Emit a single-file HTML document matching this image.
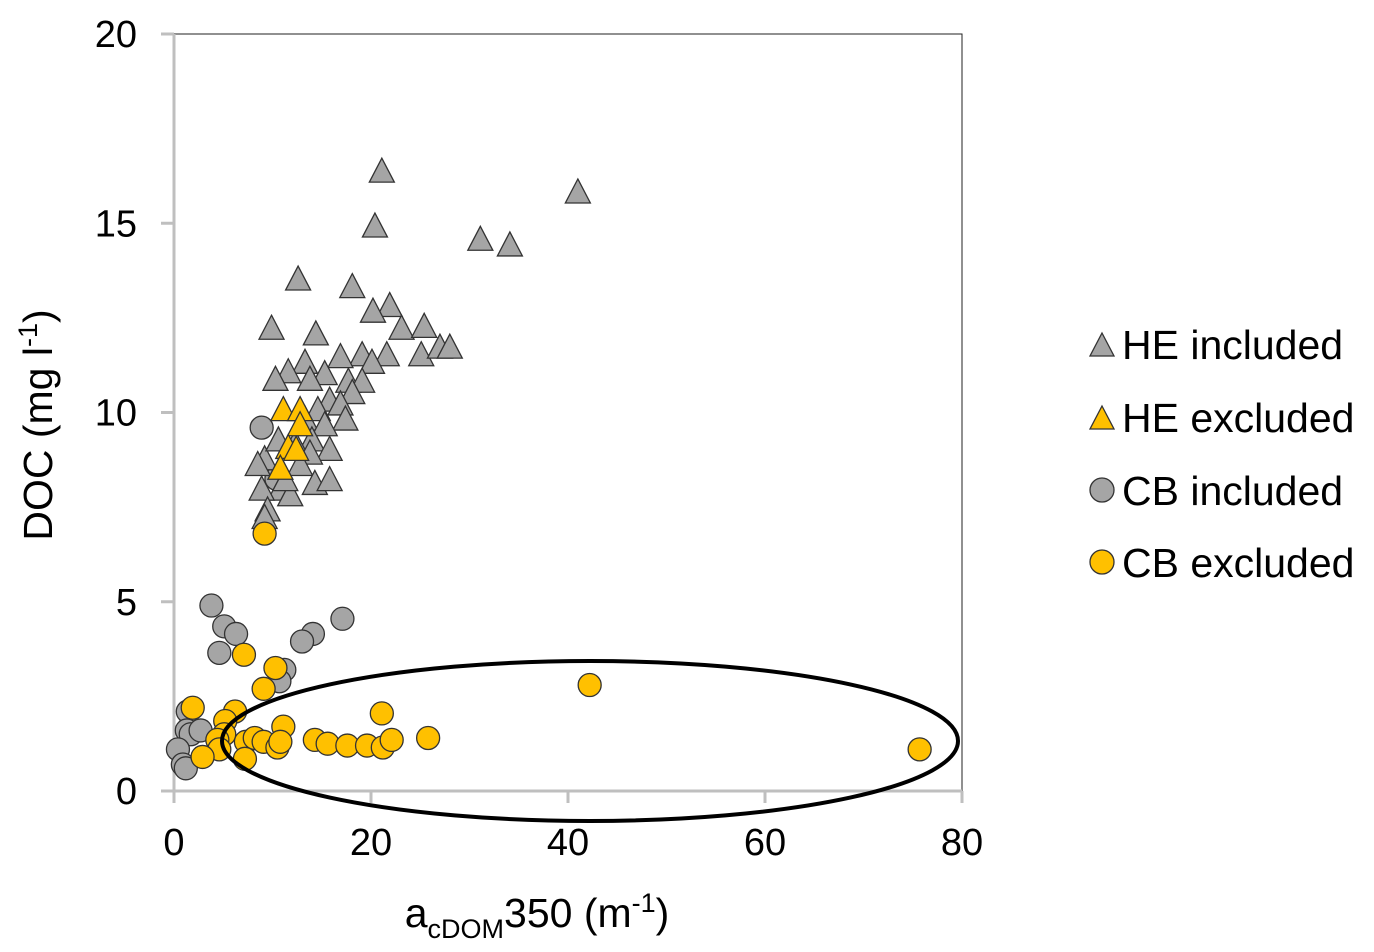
<!DOCTYPE html>
<html><head><meta charset="utf-8"><style>
html,body{margin:0;padding:0;background:#fff;}
svg{display:block;font-family:"Liberation Sans",Arial,sans-serif;}
</style></head><body>
<svg id="chart" width="1374" height="952" viewBox="0 0 1374 952">
<g id="axes"></g>
<g id="marks"></g>
<ellipse cx="590" cy="741" rx="368" ry="80" fill="none" stroke="#000" stroke-width="4"/>
<text x="52" y="425" font-size="41" text-anchor="middle" transform="rotate(-90 52 425)">DOC (mg l<tspan font-size="27" dy="-15">-1</tspan><tspan dy="15">)</tspan></text>
<text x="537" y="927" font-size="41" text-anchor="middle">a<tspan font-size="27" dy="11">cDOM</tspan><tspan dy="-11">350 (m</tspan><tspan font-size="27" dy="-15">-1</tspan><tspan dy="15">)</tspan></text>
<g id="legend">
<g><polygon points="1102,333 1114,356 1090,356" fill="#a5a5a5" stroke="#333" stroke-width="1.3"/><text x="1122" y="359" font-size="41">HE included</text></g>
<g><polygon points="1102,406 1114,429 1090,429" fill="#ffc000" stroke="#333" stroke-width="1.3"/><text x="1122" y="432" font-size="41">HE excluded</text></g>
<g><circle cx="1102" cy="490" r="12" fill="#a5a5a5" stroke="#333" stroke-width="1.3"/><text x="1122" y="505" font-size="41">CB included</text></g>
<g><circle cx="1102" cy="562" r="12" fill="#ffc000" stroke="#333" stroke-width="1.3"/><text x="1122" y="577" font-size="41">CB excluded</text></g>
</g>
</svg>
<script>
const xTicks=[0,20,40,60,80];
const yTicks=[0,5,10,15,20];
const heIncX=[21.1,20.4,41,31.1,34.1,12.6,18.1,21.9,20.2,9.9,14.4,23.1,25.4,25.1,27,28,21.6,19.1,20.1,16.9,13.3,11.6,15.3,10.3,13.8,17.7,19.1,18.1,15.8,16.9,14.6,17.4,13.3,15.3,14,12.3,15.8,13.8,9.2,12.8,8.5,14.3,15.8,10.8,8.9,11.8,9.5,9.2,11.3,10.6];
const heIncY=[16.35,14.9,15.8,14.55,14.4,13.5,13.3,12.8,12.65,12.2,12.05,12.2,12.25,11.5,11.7,11.7,11.5,11.5,11.3,11.45,11.3,11.05,11,10.85,10.85,10.8,10.8,10.5,10.3,10.2,10.05,9.8,9.8,9.65,9.25,9.15,9,8.9,8.75,8.6,8.6,8.1,8.2,7.95,7.95,7.8,7.4,7.2,8.2,9.25];
const heExcX=[11.1,12.8,12.8,11.6,12.4,10.8];
const heExcY=[10.05,10.05,9.65,9.05,9,8.5];
const cbIncX=[8.9,10.4,3.8,5.1,6.3,4.6,14.1,13,17.1,11.2,10.7,1.4,1.3,1.7,0.4,0.9,1.2,2.7];
const cbIncY=[9.6,8.25,4.9,4.35,4.15,3.65,4.15,3.95,4.55,3.2,2.9,2.1,1.6,1.5,1.1,0.7,0.6,1.6];
const cbExcX=[9.2,7.1,10.3,9.1,1.9,6.2,5.2,5.1,4.4,4.6,2.9,7.3,8.2,9.1,7.2,11.1,10.5,14.3,15.6,17.6,19.6,21.2,21.1,22.1,25.8,42.2,75.7,10.8];
const cbExcY=[6.8,3.6,3.25,2.7,2.2,2.1,1.85,1.5,1.35,1.1,0.9,1.3,1.4,1.3,0.85,1.7,1.15,1.35,1.25,1.2,1.2,1.15,2.05,1.35,1.4,2.8,1.1,1.3];

const NS='http://www.w3.org/2000/svg';
const X0=174,X1=962,Y0=791,Y1=34;
const sx=v=>X0+(v-0)/(80-0)*(X1-X0);
const sy=v=>Y0-(v-0)/(20-0)*(Y0-Y1);
const axes=document.getElementById('axes');
const marks=document.getElementById('marks');
function mk(tag,attrs,parent){const e=document.createElementNS(NS,tag);for(const k in attrs)e.setAttribute(k,attrs[k]);parent.appendChild(e);return e;}
let e;
e=mk('rect',{x:X0,y:Y1,width:X1-X0,height:Y0-Y1,fill:'none',stroke:'#222','stroke-width':1},axes);


e=mk('line',{x1:X0,y1:Y1,x2:X0,y2:Y0,stroke:'#bfbfbf','stroke-width':3},axes);


e=mk('line',{x1:X0,y1:Y0,x2:X1,y2:Y0,stroke:'#bfbfbf','stroke-width':3},axes);


xTicks.forEach(t=>{
  e=mk('line',{x1:sx(t),y1:Y0,x2:sx(t),y2:Y0+12,stroke:'#bfbfbf','stroke-width':3},axes);
  
  
  e=mk('text',{x:sx(t),y:855,'font-size':38,'text-anchor':'middle'},axes);e.textContent=t;
  
  
});
yTicks.forEach(t=>{
  e=mk('line',{x1:X0-13,y1:sy(t),x2:X0,y2:sy(t),stroke:'#bfbfbf','stroke-width':3},axes);
  
  
  e=mk('text',{x:137,y:sy(t)+13,'font-size':38,'text-anchor':'end'},axes);e.textContent=t;
  
  
});
function tri(xs,ys,fill,name){xs.forEach((v,i)=>{const cx=sx(v),cy=sy(ys[i]);
  e=mk('polygon',{points:`${cx},${cy-14} ${cx+12.5},${cy+10} ${cx-12.5},${cy+10}`,fill:fill,stroke:'#333','stroke-width':1.3},marks);
  
  });}
function circ(xs,ys,fill,name){xs.forEach((v,i)=>{
  e=mk('circle',{cx:sx(v),cy:sy(ys[i]),r:11.5,fill:fill,stroke:'#333','stroke-width':1.3},marks);
  
  });}
circ(cbIncX,cbIncY,'#a5a5a5','cb-included-point');
tri(heIncX,heIncY,'#a5a5a5','he-included-point');
tri(heExcX,heExcY,'#ffc000','he-excluded-point');
circ(cbExcX,cbExcY,'#ffc000','cb-excluded-point');
</script>
</body></html>
